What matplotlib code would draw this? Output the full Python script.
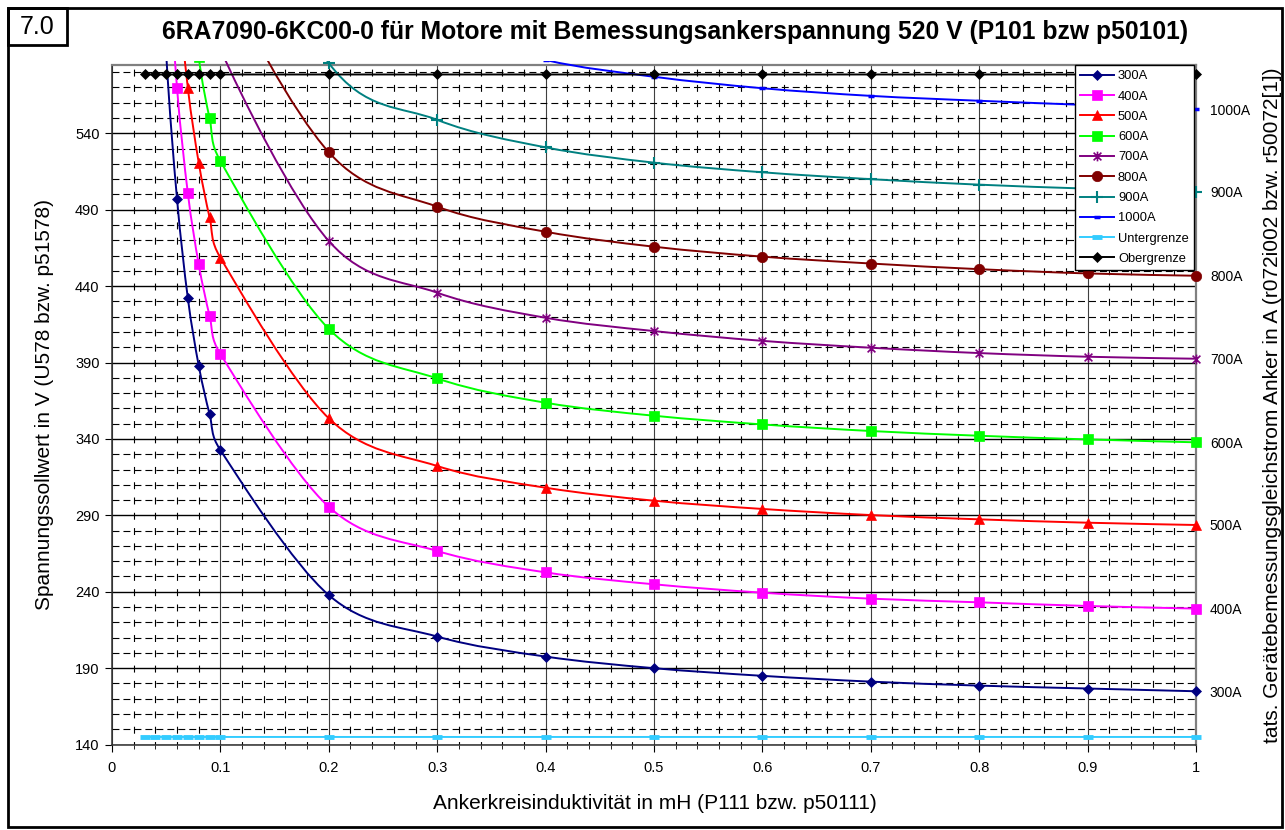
import numpy as np
import matplotlib
matplotlib.use("Agg")
import matplotlib.pyplot as plt
from matplotlib.path import Path
from matplotlib.patches import PathPatch, Rectangle
from matplotlib.lines import Line2D
from matplotlib.ticker import MultipleLocator

plt.rcParams["font.family"] = ["Liberation Sans", "DejaVu Sans"]
plt.rcParams["lines.scale_dashes"] = False

# ---------------------------------------------------------------- data
# armature circuit inductance (mH)
L_mH = [0.03, 0.04, 0.05, 0.06, 0.07, 0.08, 0.09, 0.1,
        0.2, 0.3, 0.4, 0.5, 0.6, 0.7, 0.8, 0.9, 1.0]
nan = float("nan")

# voltage setpoint (V) per rated armature current; points far above the
# axis range are left empty
u_300A = [nan, 740, 592, 497, 432, 388, 356.3, 332.7,
          237.8, 210.7, 197.6, 190.0, 185.0, 181.2, 178.6, 176.7, 174.9]
u_400A = [nan, nan, 675, 569.5, 500.7, 454.3, 420.6, 395.6,
          295.6, 266.7, 252.7, 244.9, 239.4, 235.5, 233.1, 230.7, 229.0]
u_500A = [nan, nan, nan, 640, 569.5, 520.8, 485.0, 458.6,
          353.5, 322.3, 308.1, 299.6, 294.2, 290.2, 287.4, 285.2, 283.7]
u_600A = [nan, nan, nan, nan, 660, 590, 549.8, 521.9,
          412.0, 379.6, 363.7, 355.2, 349.5, 345.2, 342.1, 339.7, 337.8]
u_700A = [nan, nan, nan, nan, nan, 720, 645, 595,
          469.5, 435.7, 419.3, 410.6, 404.2, 399.7, 396.2, 393.8, 392.5]
u_800A = [nan, nan, nan, nan, nan, nan, 720, 650,
          527.6, 492.0, 475.6, 465.8, 459.3, 454.8, 451.1, 448.3, 446.8]
u_900A = [nan, nan, nan, nan, nan, nan, nan, 740,
          586, 548.8, 530.8, 520.8, 514.5, 510.0, 506.4, 503.8, 501.8]
u_1000A = [nan, nan, nan, nan, nan, nan, nan, nan,
           nan, 610, 588, 577.0, 569.5, 564.5, 561.3, 558.5, 555.8]
u_lower = [145] * 17
u_upper = [578.5] * 17

series_names = ["300A", "400A", "500A", "600A", "700A", "800A", "900A",
                "1000A", "Untergrenze", "Obergrenze"]
series_values = [u_300A, u_400A, u_500A, u_600A, u_700A, u_800A, u_900A,
                 u_1000A, u_lower, u_upper]
current_labels = ["300A", "400A", "500A", "600A", "700A", "800A", "900A", "1000A"]

x_ticks = [0, 0.1, 0.2, 0.3, 0.4, 0.5, 0.6, 0.7, 0.8, 0.9, 1.0]
x_tick_labels = ["0", "0.1", "0.2", "0.3", "0.4", "0.5", "0.6", "0.7", "0.8", "0.9", "1"]
y_ticks = [140, 190, 240, 290, 340, 390, 440, 490, 540]

title = "6RA7090-6KC00-0 für Motore mit Bemessungsankerspannung 520 V (P101 bzw p50101)"
x_title = "Ankerkreisinduktivität in mH (P111 bzw. p50111)"
y_title = "Spannungssollwert in V (U578 bzw. p51578)"
y2_title = "tats. Gerätebemessungsgleichstrom Anker in A (r072i002 bzw. r50072[1])"

# ---------------------------------------------------------------- styles
star = Path([(-1, -1), (1, 1), (-1, 1), (1, -1), (0, -1.25), (0, 1.25)],
            [Path.MOVETO, Path.LINETO, Path.MOVETO, Path.LINETO, Path.MOVETO, Path.LINETO])
styles = {
    "300A": dict(color="#000080", marker="D", ms=5.5, mew=0.5),
    "400A": dict(color="#FF00FF", marker="s", ms=7, mew=0.5),
    "500A": dict(color="#FF0000", marker="^", ms=7.5, mew=0.5),
    "600A": dict(color="#00FF00", marker="s", ms=7, mew=0.5),
    "700A": dict(color="#800080", marker=star, ms=7, mew=1.2),
    "800A": dict(color="#800000", marker="o", ms=7.5, mew=0.5),
    "900A": dict(color="#008080", marker="+", ms=8, mew=1.5),
    "1000A": dict(color="#0000FF", marker="_", ms=5, mew=2.5),
    "Untergrenze": dict(color="#33CCFF", marker="_", ms=7.5, mew=3.5),
    "Obergrenze": dict(color="#000000", marker="D", ms=5.5, mew=0.5),
}
LW = 1.4

W, H = 1285, 830
fig = plt.figure(figsize=(W / 100, H / 100), dpi=100)
fig.patch.set_facecolor("white")

ax_l, ax_r, ax_t, ax_b = 112, 1196, 65, 744.6
ax = fig.add_axes([ax_l / W, 1 - ax_b / H, (ax_r - ax_l) / W, (ax_b - ax_t) / H])
y_min, y_max = 140, 584.7
ax.set_xlim(0, 1)
ax.set_ylim(y_min, y_max)

# ---------------------------------------------------------------- grid
ax.set_axisbelow(True)
ax.xaxis.set_minor_locator(MultipleLocator(0.02))
ax.yaxis.set_minor_locator(MultipleLocator(10))
ax.set_xticks(x_ticks, x_tick_labels)
ax.set_yticks(y_ticks)

ax_h_pt = (ax_b - ax_t) / 100 * 72
step_pt = ax_h_pt * 10 / (y_max - y_min)
tick_pt = 5.0
ax.yaxis.grid(True, which="major", color="black", lw=1.0)
ax.xaxis.grid(True, which="major", color="#404040", lw=0.8)
ax.yaxis.grid(True, which="minor", color="black", lw=0.8,
              linestyle=(0, (5.0, 2.9)))
ax.xaxis.grid(True, which="minor", color="black", lw=0.8,
              linestyle=(tick_pt / 2, (tick_pt, step_pt - tick_pt)))

ax.tick_params(axis="y", which="major", direction="out", length=5,
               labelsize=10.5, pad=4, color="black")
ax.tick_params(axis="y", which="minor", length=0)
ax.tick_params(axis="x", which="major", direction="out", length=5,
               labelsize=10.5, pad=7)
ax.tick_params(axis="x", which="minor", direction="out", length=3)

for side in ("top", "right"):
    ax.spines[side].set_color("#808080")
    ax.spines[side].set_linewidth(1.6)
for side in ("left", "bottom"):
    ax.spines[side].set_color("#303030")
    ax.spines[side].set_linewidth(1.1)

# lines may run slightly above the top border, as in the spreadsheet chart
clip_rect = Rectangle((-0.05, 100), 1.1, 587.5 - 100, transform=ax.transData)


def smooth_path(xs, ys):
    """Bezier spline through the points, built in screen space."""
    xs = np.asarray(xs, float)
    ys = np.asarray(ys, float)
    ok = ~np.isnan(ys)
    pts = ax.transData.transform(np.column_stack([xs[ok], ys[ok]]))
    n = len(pts)
    verts = [pts[0]]
    codes = [Path.MOVETO]
    for i in range(n - 1):
        p0 = pts[i - 1] if i > 0 else pts[i]
        p1, p2 = pts[i], pts[i + 1]
        p3 = pts[i + 2] if i + 2 < n else pts[i + 1]
        seg = np.hypot(*(p2 - p1))
        a1 = (p2 - p0) / 6.0
        a2 = (p3 - p1) / 6.0
        for a in (a1, a2):
            la = np.hypot(*a)
            if la > 0.5 * seg:
                a *= 0.5 * seg / la
        verts += [p1 + a1, p2 - a2, p2]
        codes += [Path.CURVE4] * 3
    verts = ax.transData.inverted().transform(np.array(verts))
    return Path(verts, codes)


handles = []
for name, vals in zip(series_names, series_values):
    st = styles[name]
    patch = PathPatch(smooth_path(L_mH, vals), fill=False, edgecolor=st["color"],
                      lw=LW, zorder=3, capstyle="butt")
    ax.add_patch(patch)
    patch.set_clip_path(clip_rect)
    mk, = ax.plot(L_mH, vals, ls="none", marker=st["marker"], ms=st["ms"],
                  mew=st["mew"], mfc=st["color"], mec=st["color"], zorder=4)
    mk.set_clip_path(clip_rect)
    handles.append(Line2D([], [], color=st["color"], lw=LW, marker=st["marker"],
                          ms=st["ms"], mew=st["mew"], mfc=st["color"],
                          mec=st["color"], label=name))

leg = ax.legend(handles=handles, loc="upper right", bbox_to_anchor=(0.998, 1.0),
                fontsize=9.3, frameon=True, fancybox=False, framealpha=1,
                edgecolor="black", borderaxespad=0, labelspacing=0.64,
                handlelength=2.6, handletextpad=0.3, borderpad=0.4)
leg.get_frame().set_linewidth(1.0)
leg.set_zorder(10)

# right-hand axis: rated current at the end of each curve
ax2 = ax.twinx()
ax2.set_ylim(y_min, y_max)
end_values = [v[-1] for v in series_values[:8]]
ax2.set_yticks(end_values, current_labels)
ax2.tick_params(axis="y", length=0, labelsize=10, pad=10)
for s in ax2.spines.values():
    s.set_visible(False)

# ---------------------------------------------------------------- texts
fig.text(675 / W, 1 - 32 / H, title, ha="center", va="center",
         fontsize=17.8, fontweight="bold")
fig.text(37.5 / W, 1 - 27 / H, "7.0", ha="center", va="center", fontsize=18)
fig.text(655 / W, 1 - 803 / H, x_title, ha="center", va="center", fontsize=15)
fig.text(45 / W, 1 - (ax_t + ax_b) / 2 / H, y_title, ha="center", va="center",
         rotation=90, fontsize=15)
fig.text(1272 / W, 1 - (ax_t + ax_b) / 2 / H, y2_title, ha="center", va="center",
         rotation=90, fontsize=15)

# page frame and chapter box
fig.add_artist(Rectangle((8 / W, 1 - 827 / H), (1282 - 8) / W, (827 - 8) / H,
                         transform=fig.transFigure, fill=False, lw=2, ec="black"))
fig.add_artist(Rectangle((8 / W, 1 - 45 / H), (67 - 8) / W, (45 - 8) / H,
                         transform=fig.transFigure, fill=False, lw=2, ec="black"))

fig.savefig("out.png", dpi=100)
